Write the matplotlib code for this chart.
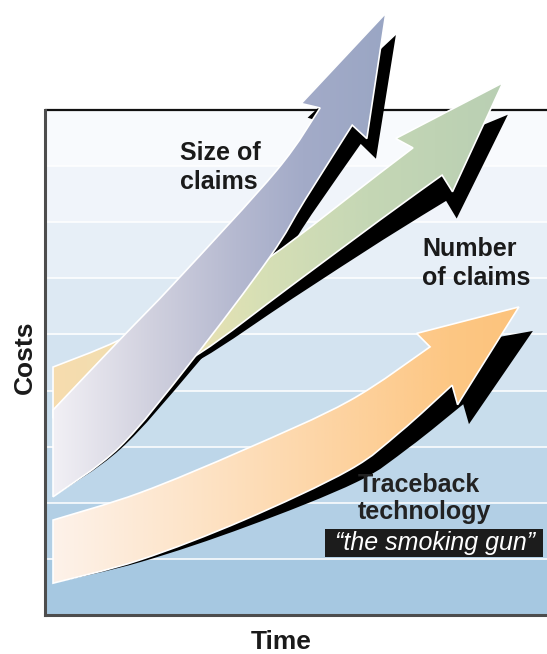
import numpy as np
import matplotlib
matplotlib.use('Agg')
import matplotlib.pyplot as plt
from matplotlib.path import Path
from matplotlib.patches import PathPatch, Rectangle
from matplotlib.colors import LinearSegmentedColormap, ListedColormap

plt.rcParams['font.family'] = ['Liberation Sans', 'DejaVu Sans']

# Arrow outlines in (time, cost), tail -> head; the head is built from the tip
size_upper_t = [1.6, 14.9, 26.3, 46.2, 54.8]
size_upper_c = [40.6, 54.5, 66.3, 88.1, 100.4]
size_lower_t = [1.6, 14.9, 28.9, 44.8, 51.8, 61.2]
size_lower_c = [23.4, 33.3, 49.9, 70.9, 82.2, 97.0]
size_tip = (67.9, 119.2)

number_upper_t = [1.6, 14.9, 30.9, 44.8, 66.7, 73.3]
number_upper_c = [49.1, 54.5, 63.2, 70.9, 87.5, 92.5]
number_lower_t = [1.6, 16.9, 30.9, 48.8, 66.7, 79.1]
number_lower_c = [39.0, 44.6, 51.9, 65.0, 78.2, 87.1]
number_tip = (91.2, 105.4)

trace_upper_t = [1.6, 18.9, 39.6, 60.6, 76.7]
trace_upper_c = [18.8, 24.2, 32.7, 42.4, 53.1]
trace_lower_t = [1.6, 18.9, 39.6, 60.6, 70.7, 81.1]
trace_lower_c = [6.3, 10.9, 18.8, 28.7, 36.2, 45.5]
trace_tip = (94.4, 61.0)

stripe_levels = [100 / 9 * k for k in range(1, 9)]
band_colors = ['#a6c8e1', '#b2cfe5', '#bdd6e9', '#c8ddec', '#d3e3f0',
               '#dde9f3', '#e7eff7', '#f0f4fa', '#f8fafd']

size_colors = [(0, '#f2f0f5'), (0.3, '#d0d0de'), (0.55, '#b5b9d0'),
               (0.75, '#a3abc8'), (1, '#9aa6c4')]
number_colors = [(0, '#f7dcae'), (0.3, '#ebe0b2'), (0.45, '#d8e0b5'),
                 (0.7, '#c5d7b5'), (1, '#b9cfb3')]
trace_colors = [(0, '#fdf2ea'), (0.3, '#fde4c8'), (0.6, '#fdd4a3'),
                (0.85, '#fdc784'), (1, '#fcc37c')]


def smooth_edge(pts):
    # Catmull-Rom through the points, as cubic bezier segments
    verts = []
    n = len(pts)
    for i in range(n - 1):
        p0 = pts[max(i - 1, 0)]
        p1 = pts[i]
        p2 = pts[i + 1]
        p3 = pts[min(i + 2, n - 1)]
        verts += [p1 + (p2 - p0) / 6, p2 - (p3 - p1) / 6, p2]
    return verts


def arrow_verts(ax, upper, lower, tip, barb_out=19, barb_back=5):
    to_px = ax.transData.transform
    U = to_px(np.column_stack(upper))
    L = to_px(np.column_stack(lower))
    T = to_px([tip])[0]
    mid = (U[-1] + L[-1]) / 2
    fwd = (T - mid) / np.linalg.norm(T - mid)
    out = (U[-1] - L[-1]) / np.linalg.norm(U[-1] - L[-1])
    barb_u = U[-1] + out * barb_out - fwd * barb_back
    barb_l = L[-1] - out * barb_out - fwd * barb_back

    verts = [U[0]] + smooth_edge(U)
    codes = [Path.MOVETO] + [Path.CURVE4] * (3 * (len(U) - 1))
    verts += [barb_u, T, barb_l, L[-1]]
    codes += [Path.LINETO] * 4
    verts += smooth_edge(L[::-1])
    codes += [Path.CURVE4] * (3 * (len(L) - 1))
    verts += [U[0]]
    codes += [Path.CLOSEPOLY]
    return np.array(verts), codes, U[0][0], T[0]


def draw_arrow(ax, upper, lower, tip, colors, shadow, z_shadow, z):
    verts, codes, x_tail, x_tip = arrow_verts(ax, upper, lower, tip)
    inv = ax.transData.inverted()

    # black drop shadow, growing from nothing at the tail to full at the head
    t = np.clip((verts[:, 0] - x_tail) / (x_tip - x_tail), 0, 1) ** 1.5
    sverts = verts + t[:, None] * np.array([shadow[0], -shadow[1]])
    ax.add_patch(PathPatch(Path(inv.transform(sverts), codes),
                           facecolor='black', edgecolor='none', zorder=z_shadow))

    path = Path(inv.transform(verts), codes)
    outline = PathPatch(path, facecolor='none', edgecolor='white',
                        lw=1.2, zorder=z + 0.2)
    ax.add_patch(outline)
    ext = path.get_extents()
    cmap = LinearSegmentedColormap.from_list('', colors)
    im = ax.imshow(np.linspace(0, 1, 256)[None, :], cmap=cmap,
                   extent=[ext.x0, ext.x1, ext.y0, ext.y1], origin='lower',
                   aspect='auto', interpolation='bilinear', zorder=z + 0.1)
    im.set_clip_path(outline)


fig = plt.figure(figsize=(5.47, 6.54), dpi=100)
ax = fig.add_axes([45 / 547, 39 / 654, 502 / 547, 615 / 654])
ax.set_xlim(0, 100)
ax.set_ylim(0, 615 / 5.05)
ax.autoscale(False)

# banded background
ax.imshow(np.arange(9)[:, None], cmap=ListedColormap(band_colors),
          extent=[0, 100, 0, 100], origin='lower', aspect='auto',
          interpolation='nearest', zorder=0)
ax.set_yticks(stripe_levels)
ax.set_xticks([])
ax.tick_params(length=0, labelleft=False)
ax.grid(axis='y', color='white', lw=1.4, alpha=0.8)
ax.set_axisbelow(True)

ax.axhline(100, color='#111111', lw=1.6, zorder=1)
for side in ['top', 'right']:
    ax.spines[side].set_visible(False)
for side in ['left', 'bottom']:
    ax.spines[side].set_color('#4d4d4d')
    ax.spines[side].set_linewidth(2.2)
ax.spines['left'].set_bounds(0, 100)

# shadow zorder, arrow zorder: size of claims sits over number of claims,
# while its own shadow stays under the green arrow
draw_arrow(ax, (trace_upper_t, trace_upper_c), (trace_lower_t, trace_lower_c),
           trace_tip, trace_colors, (14, 24), 2, 3)
draw_arrow(ax, (size_upper_t, size_upper_c), (size_lower_t, size_lower_c),
           size_tip, size_colors, (10, 22), 4, 7)
draw_arrow(ax, (number_upper_t, number_upper_c), (number_lower_t, number_lower_c),
           number_tip, number_colors, (5, 32), 4.5, 5)

ax.text(26.9, 88.6, 'Size of\nclaims', ha='left', va='center', fontsize=18,
        fontweight='bold', color='#1a1a1a', linespacing=1.25, zorder=10)
ax.text(75.1, 69.6, 'Number\nof claims', ha='left', va='center', fontsize=18,
        fontweight='bold', color='#1a1a1a', linespacing=1.25, zorder=10)
ax.text(62.4, 23.1, 'Traceback\ntechnology', ha='left', va='center', fontsize=18,
        fontweight='bold', color='#222222', linespacing=1.15, zorder=10)
ax.add_patch(Rectangle((55.8, 11.5), 43.4, 5.5, facecolor='#1c1c1c',
                       edgecolor='none', zorder=10))
ax.text(77.7, 14.25, '\u201cthe smoking gun\u201d', ha='center', va='center',
        fontsize=18, style='italic', color='white', zorder=11)

ax.set_ylabel('Costs', fontsize=19, fontweight='bold', color='#1a1a1a')
ax.yaxis.set_label_coords(-0.041, 0.419)
ax.yaxis.label.set_verticalalignment('center')
ax.set_xlabel('Time', fontsize=19, fontweight='bold', color='#1a1a1a')
ax.xaxis.set_label_coords(0.47, -0.044)
ax.xaxis.label.set_verticalalignment('center')

fig.savefig('out.png', dpi=100)
